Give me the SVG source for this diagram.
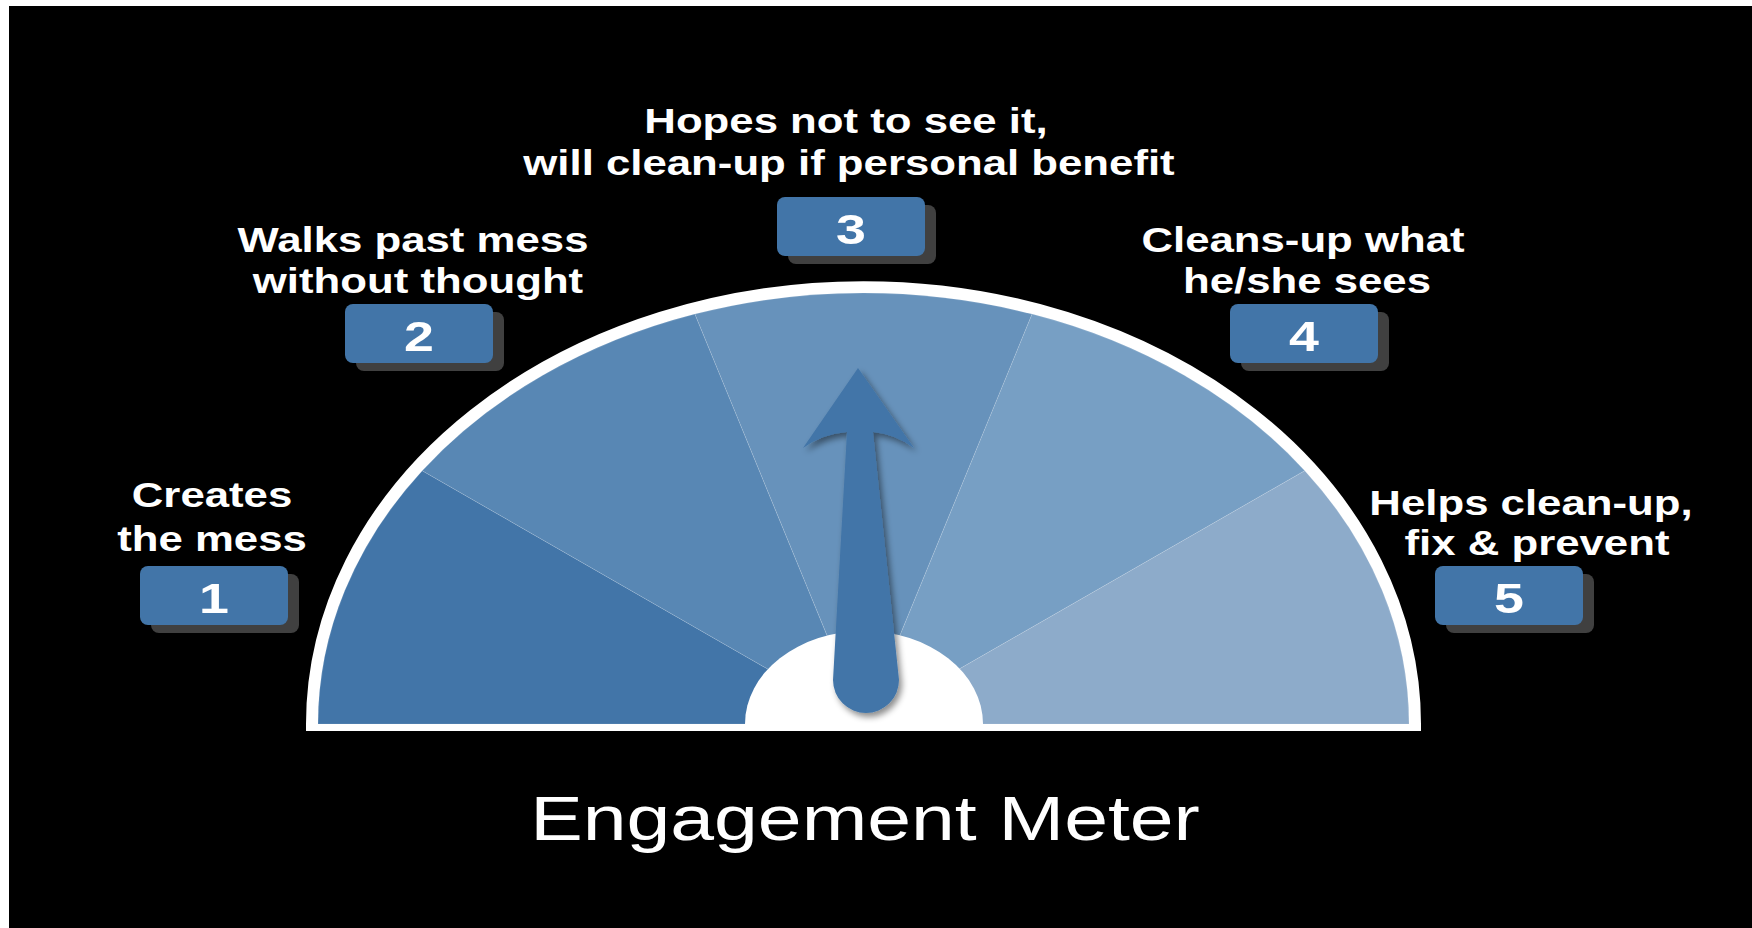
<svg xmlns="http://www.w3.org/2000/svg" width="1752" height="928" viewBox="0 0 1752 928">
<defs>
<style>
.lbl{font-family:"Liberation Sans",Arial,sans-serif;font-weight:bold;font-size:35px;fill:#ffffff;text-anchor:middle}
.num{font-family:"Liberation Sans",Arial,sans-serif;font-weight:bold;font-size:43px;fill:#ffffff;text-anchor:middle}
.title{font-family:"Liberation Sans",Arial,sans-serif;font-size:63px;fill:#ffffff;text-anchor:middle}
.box{fill:#4275a8}
.shadow{fill:#404040}
.sec{stroke:#ffffff;stroke-opacity:0.12;stroke-width:1}
</style>
<filter id="ds" x="-30%" y="-10%" width="160%" height="130%">
<feDropShadow dx="3" dy="4" stdDeviation="3" flood-color="#000000" flood-opacity="0.45"/>
</filter>
</defs>
<rect x="0" y="0" width="1752" height="928" fill="#ffffff"/>
<rect x="9" y="6" width="1743" height="922" fill="#000000"/>

<g id="gauge">
<path d="M318 724 A545.5 431 0 0 1 1409 724" fill="#ffffff" stroke="#ffffff" stroke-width="24" stroke-linecap="butt"/>
<rect x="306" y="723" width="1115" height="8" fill="#ffffff"/>
<path class="sec" d="M863.5 724 L318 724 A545.5 431 0 0 1 422.2 470.7 Z" fill="#4275a8"/>
<path class="sec" d="M863.5 724 L422.2 470.7 A545.5 431 0 0 1 694.9 314.1 Z" fill="#5887b4"/>
<path class="sec" d="M863.5 724 L694.9 314.1 A545.5 431 0 0 1 1032.1 314.1 Z" fill="#6792bb"/>
<path class="sec" d="M863.5 724 L1032.1 314.1 A545.5 431 0 0 1 1304.8 470.7 Z" fill="#779fc4"/>
<path class="sec" d="M863.5 724 L1304.8 470.7 A545.5 431 0 0 1 1409 724 Z" fill="#8dabca"/>
<path d="M745 731 L745 724 A119 93 0 0 1 983 724 L983 731 Z" fill="#ffffff"/>
</g>

<g id="needle">
<path d="M858 368 L914 448 Q895 434 873 432 L899 680 A33 33 0 0 1 833 680 L847 432 Q822 434 803 448 Z" fill="#4275a8" filter="url(#ds)"/>
</g>

<g id="node1">
<rect class="shadow" x="151" y="574" width="148" height="59" rx="8"/>
<rect class="box" x="140" y="566" width="148" height="59" rx="8"/>
<text class="num" transform="translate(214 613) scale(1.25 1)">1</text>
<text class="lbl" transform="translate(212 507) scale(1.25 1)">Creates</text>
<text class="lbl" transform="translate(212 551) scale(1.25 1)">the mess</text>
</g>

<g id="node2">
<rect class="shadow" x="356" y="312" width="148" height="59" rx="8"/>
<rect class="box" x="345" y="304" width="148" height="59" rx="8"/>
<text class="num" transform="translate(419 351) scale(1.25 1)">2</text>
<text class="lbl" transform="translate(413 252) scale(1.25 1)">Walks past mess</text>
<text class="lbl" transform="translate(418 293) scale(1.25 1)">without thought</text>
</g>

<g id="node3">
<rect class="shadow" x="788" y="205" width="148" height="59" rx="8"/>
<rect class="box" x="777" y="197" width="148" height="59" rx="8"/>
<text class="num" transform="translate(851 244) scale(1.25 1)">3</text>
<text class="lbl" transform="translate(846 133) scale(1.25 1)">Hopes not to see it,</text>
<text class="lbl" transform="translate(849 175) scale(1.25 1)">will clean-up if personal benefit</text>
</g>

<g id="node4">
<rect class="shadow" x="1241" y="312" width="148" height="59" rx="8"/>
<rect class="box" x="1230" y="304" width="148" height="59" rx="8"/>
<text class="num" transform="translate(1304 351) scale(1.25 1)">4</text>
<text class="lbl" transform="translate(1303 252) scale(1.25 1)">Cleans-up what</text>
<text class="lbl" transform="translate(1307 293) scale(1.25 1)">he/she sees</text>
</g>

<g id="node5">
<rect class="shadow" x="1446" y="574" width="148" height="59" rx="8"/>
<rect class="box" x="1435" y="566" width="148" height="59" rx="8"/>
<text class="num" transform="translate(1509 613) scale(1.25 1)">5</text>
<text class="lbl" transform="translate(1531 515) scale(1.25 1)">Helps clean-up,</text>
<text class="lbl" transform="translate(1537 555) scale(1.25 1)">fix &amp; prevent</text>
</g>

<g id="connectors"></g>

<text class="title" transform="translate(865 840) scale(1.25 1)">Engagement Meter</text>
</svg>
